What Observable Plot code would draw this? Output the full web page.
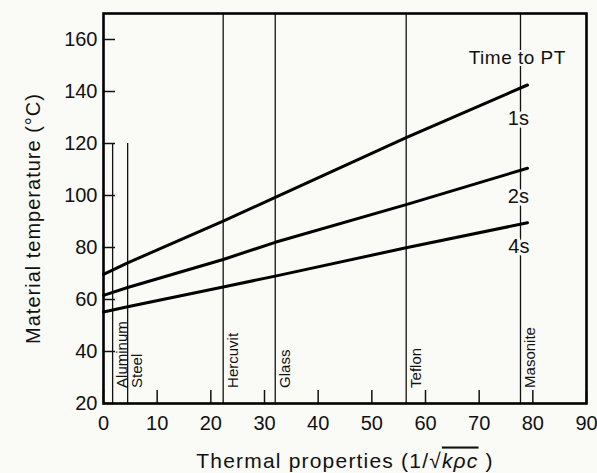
<!DOCTYPE html>
<html><head><meta charset="utf-8">
<script src="https://cdn.jsdelivr.net/npm/d3@7"></script>
<script src="https://cdn.jsdelivr.net/npm/@observablehq/plot@0.6"></script>
<style>
html,body{margin:0;padding:0;background:#fafaf7;}
#chart svg{display:block;}
</style>
</head><body><div id="chart"></div>
<script>
// Thermal property values (1/sqrt(k rho c)) where readings were taken
const thermal = [0, 4.5, 22.3, 32, 56.4, 79];
// Material temperature (°C) for each time to PT
const temp1s = [69.7, 74.1, 90.1, 99.3, 122.3, 142.5];
const temp2s = [61.6, 64.6, 75.4, 82, 96.5, 110.5];
const temp4s = [55.2, 57.2, 64.8, 69.0, 79.9, 89.5];
const seriesNames = ["1s", "2s", "4s"];
const seriesLabelX = [77.3, 77.3, 77.4];
const seriesLabelY = [129.5, 99.7, 80.5];

const materials = ["Aluminum", "Steel", "Hercuvit", "Glass", "Teflon", "Masonite"];
const materialX = [1.7, 4.5, 22.3, 32, 56.4, 77.7];
const materialTop = [120, 120, 170, 170, 170, 170];

const xTicks = [0, 10, 20, 30, 40, 50, 60, 70, 80, 90];
const yTicks = [20, 40, 60, 80, 100, 120, 140, 160];

const lineData = [];
[temp1s, temp2s, temp4s].forEach((arr, i) =>
  arr.forEach((v, j) => lineData.push({series: seriesNames[i], x: thermal[j], y: v})));
const matData = materials.map((m, i) => ({name: m, x: materialX[i], top: materialTop[i]}));
const seriesLabels = seriesNames.map((s, i) => ({name: s, x: seriesLabelX[i], y: seriesLabelY[i]}));

const font = "'Liberation Sans', Arial, sans-serif";
const bg = "#fafaf7";

const chart = Plot.plot({
  width: 597,
  height: 473,
  marginLeft: 103,
  marginRight: 11,
  marginTop: 13,
  marginBottom: 70,
  style: {fontFamily: font, fontSize: "20px", background: "transparent", color: "#111"},
  x: {domain: [0, 90], ticks: xTicks},
  y: {domain: [20, 170], ticks: yTicks},
  marks: [
    Plot.ruleX(matData, {x: "x", y1: 20, y2: "top", stroke: "#111", strokeWidth: 1.3}),
    Plot.line(lineData, {x: "x", y: "y", z: "series", stroke: "#000", strokeWidth: 3}),
    Plot.text(matData, {x: "x", y: 26, text: "name", rotate: -90, textAnchor: "start",
      dx: 10, fontSize: 15, fill: "#111"}),
    Plot.text(seriesLabels, {x: "x", y: "y", text: "name", fontSize: 20, fill: "#111",
      stroke: bg, strokeWidth: 6}),
    Plot.text(["Time to PT"], {x: 77.1, y: 153, text: d => d, fontSize: 19, fill: "#111",
      stroke: bg, strokeWidth: 4, className: "ttl"}),
    Plot.axisX({ticks: xTicks, tickSize: -13, tickPadding: 25, tickFormat: d => d,
      label: null, strokeWidth: 1.5}),
    Plot.axisY({ticks: yTicks, tickSize: -12, tickPadding: 18, tickFormat: d => d,
      label: null, strokeWidth: 1.5}),
    Plot.text(["Material temperature (°C)"], {frameAnchor: "left", textAnchor: "middle", dx: -70, dy: 10, rotate: -90,
      text: d => d, fontSize: 20, fill: "#111", className: "ylabel"}),
    Plot.text(["Thermal properties (1/√kρc )"], {frameAnchor: "bottom", dy: 64,
      text: d => d, fontSize: 21, fill: "#111", className: "xlabel"}),
    Plot.frame({stroke: "#000", strokeWidth: 2.6})
  ]
});
document.getElementById("chart").appendChild(chart);

const svg = d3.select(chart);
svg.selectAll(".ylabel text").style("letter-spacing", "1px");
svg.selectAll(".ttl text").style("letter-spacing", "0.5px");
svg.selectAll(".xlabel text").each(function() {
  const t = d3.select(this);
  t.style("letter-spacing", "1.2px");
  t.text(null);
  t.append("tspan").text("Thermal properties (1/√");
  t.append("tspan").attr("font-style", "italic").style("text-decoration", "overline").text("kρc");
  t.append("tspan").text(" )");
});
</script>
</body></html>
